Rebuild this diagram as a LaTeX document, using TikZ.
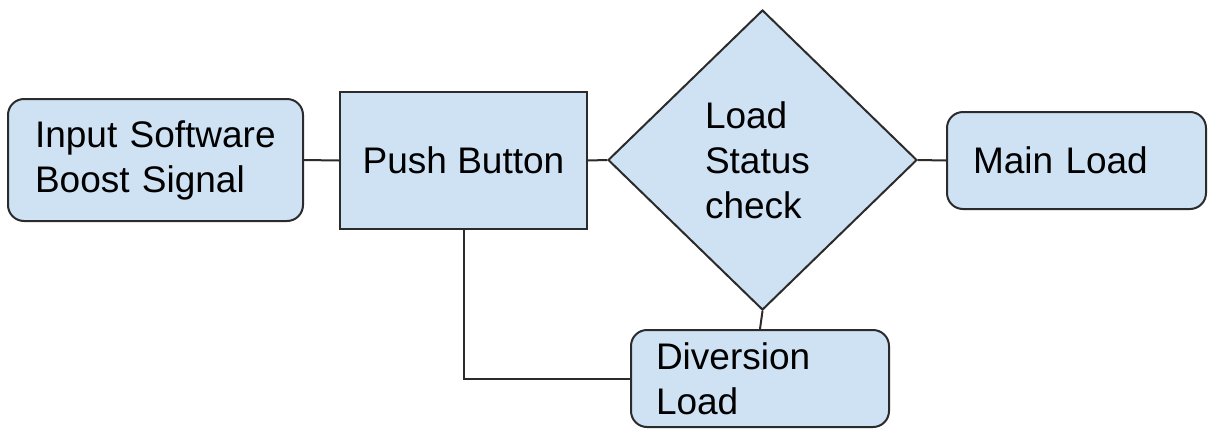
\documentclass[tikz,border=0pt]{standalone}
\usepackage{fontspec}
\setmainfont{Liberation Sans}
\usetikzlibrary{shapes.geometric}
\definecolor{boxfill}{HTML}{CFE2F3}
\definecolor{edgegray}{HTML}{2B2B2B}
\begin{document}
\begin{tikzpicture}[x=1pt,y=-1pt,
  base/.style={draw=edgegray, fill=boxfill, line width=2pt, text=black,
    font=\fontsize{37}{45}\selectfont, inner sep=0pt},
  rbox/.style={base, rectangle, rounded corners=16pt, align=left},
  sbox/.style={base, rectangle, align=center},
  decision/.style={base, diamond, align=left},
  link/.style={draw=edgegray, line width=2pt}]
\useasboundingbox (0,0) rectangle (1208,429);

% blocks
\node[rbox, minimum width=295pt, minimum height=122pt, text width=241pt]
  (in) at (155.5,160) {Input Software\\Boost Signal};
\node[sbox, minimum width=247pt, minimum height=137pt]
  (push) at (463.5,160.5) {Push Button};
\node[decision, minimum width=309pt, minimum height=300pt, text width=115pt]
  (chk) at (762.5,160) {Load\\Status\\check};
\node[rbox, minimum width=259pt, minimum height=97pt, text width=207pt]
  (main) at (1076.5,160.5) {Main Load};
\node[rbox, minimum width=258pt, minimum height=97pt, text width=208pt]
  (div) at (760,378.5) {Diversion\\Load};

% links between blocks
\draw[link] (in.east) -- (push.west);
\draw[link] (push.east) -- (chk.west);
\draw[link] (chk.east) -- (main.west);
\draw[link] (chk.south) -- (div.north);
\draw[link] (push.south) |- (div.west);
\end{tikzpicture}
\end{document}
